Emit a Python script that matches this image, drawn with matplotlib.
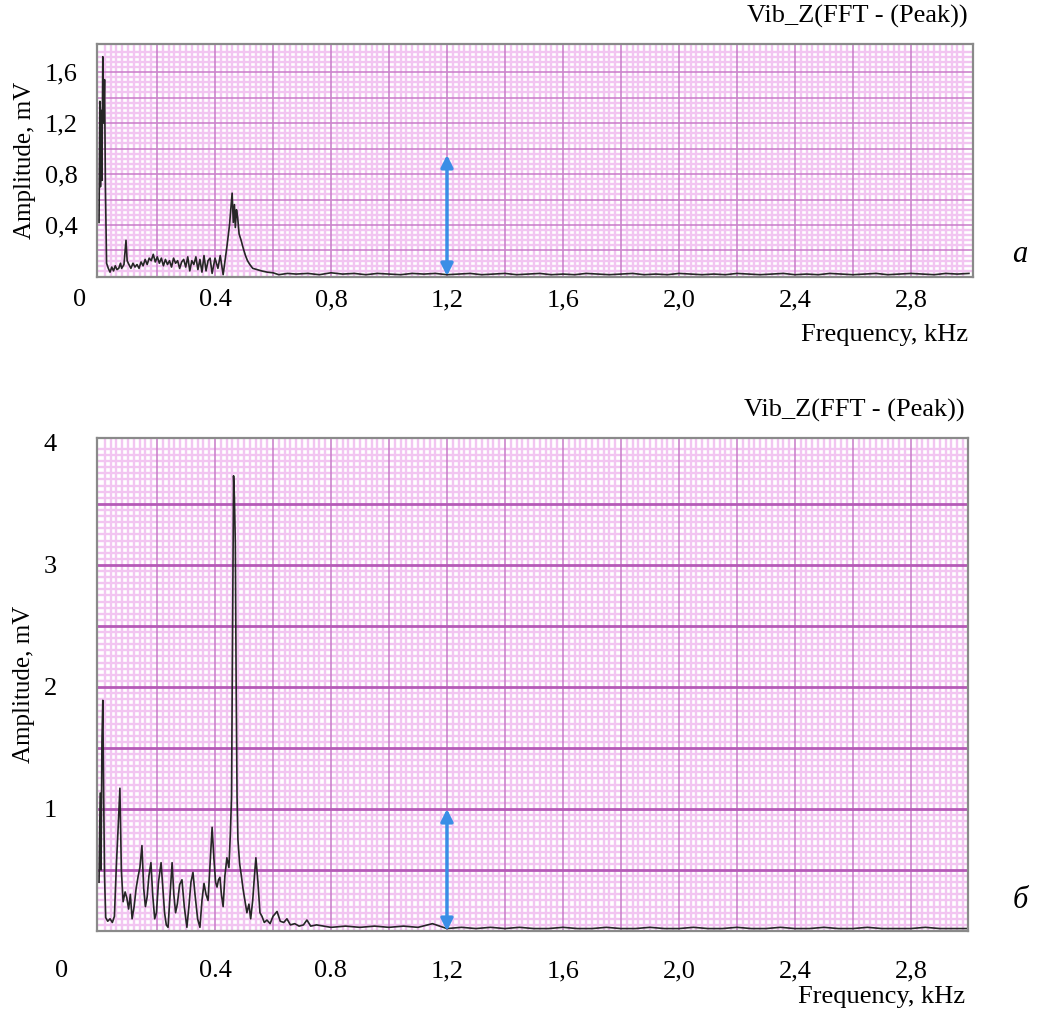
import numpy as np
import matplotlib
matplotlib.use('Agg')
import matplotlib.pyplot as plt
from matplotlib.ticker import MultipleLocator, FuncFormatter
from matplotlib.transforms import ScaledTranslation

plt.rcParams['font.family'] = ['Liberation Serif', 'DejaVu Serif']

# spectrum (a): frequency, kHz / amplitude, mV
freq_a = [0.000, 0.003, 0.005, 0.007, 0.010, 0.013, 0.016, 0.019, 0.022, 0.026,
          0.032, 0.038, 0.044, 0.050, 0.056, 0.062, 0.068, 0.074, 0.078, 0.086,
          0.093, 0.097, 0.103, 0.110, 0.117, 0.124, 0.131, 0.138, 0.145, 0.152,
          0.159, 0.166, 0.173, 0.180, 0.187, 0.194, 0.201, 0.208, 0.215, 0.222,
          0.229, 0.236, 0.243, 0.250, 0.257, 0.264, 0.271, 0.278, 0.285, 0.292,
          0.299, 0.306, 0.313, 0.320, 0.327, 0.334, 0.341, 0.348, 0.355, 0.362,
          0.369, 0.376, 0.383, 0.390, 0.400, 0.410, 0.418, 0.428, 0.441, 0.450,
          0.459, 0.463, 0.467, 0.470, 0.474, 0.478, 0.483, 0.490, 0.497, 0.505,
          0.512, 0.520, 0.530, 0.545, 0.560, 0.580, 0.600, 0.620, 0.650, 0.680,
          0.720, 0.760, 0.800, 0.840, 0.880, 0.920, 0.960, 1.000, 1.040, 1.080,
          1.120, 1.160, 1.200, 1.240, 1.280, 1.320, 1.360, 1.400, 1.440, 1.480,
          1.520, 1.560, 1.600, 1.640, 1.680, 1.720, 1.760, 1.800, 1.840, 1.880,
          1.920, 1.960, 2.000, 2.040, 2.080, 2.120, 2.160, 2.200, 2.240, 2.280,
          2.320, 2.360, 2.400, 2.440, 2.480, 2.520, 2.560, 2.600, 2.640, 2.680,
          2.720, 2.760, 2.800, 2.840, 2.880, 2.920, 2.960, 3.000]
amp_a = [0.42, 1.37, 0.70, 1.30, 0.75, 1.72, 1.20, 1.54, 0.70, 0.10,
         0.06, 0.03, 0.07, 0.04, 0.08, 0.05, 0.06, 0.10, 0.06, 0.09,
         0.28, 0.12, 0.09, 0.06, 0.10, 0.07, 0.09, 0.06, 0.11, 0.08,
         0.13, 0.09, 0.14, 0.12, 0.17, 0.11, 0.15, 0.10, 0.14, 0.08,
         0.13, 0.09, 0.12, 0.07, 0.14, 0.10, 0.12, 0.06, 0.11, 0.13,
         0.07, 0.15, 0.04, 0.12, 0.09, 0.15, 0.05, 0.13, 0.03, 0.16,
         0.04, 0.12, 0.14, 0.02, 0.14, 0.06, 0.16, 0.01, 0.23, 0.40,
         0.65, 0.42, 0.56, 0.38, 0.52, 0.46, 0.33, 0.28, 0.22, 0.16,
         0.12, 0.09, 0.06, 0.05, 0.04, 0.03, 0.025, 0.01, 0.02, 0.015,
         0.02, 0.01, 0.025, 0.015, 0.02, 0.01, 0.02, 0.015, 0.01, 0.02,
         0.015, 0.02, 0.01, 0.015, 0.02, 0.01, 0.015, 0.02, 0.01, 0.015,
         0.02, 0.01, 0.015, 0.01, 0.02, 0.015, 0.01, 0.015, 0.02, 0.01,
         0.015, 0.01, 0.02, 0.015, 0.01, 0.015, 0.01, 0.02, 0.015, 0.01,
         0.015, 0.02, 0.01, 0.015, 0.01, 0.02, 0.015, 0.01, 0.015, 0.02,
         0.01, 0.015, 0.02, 0.015, 0.01, 0.02, 0.015, 0.02]

# spectrum (б)
freq_b = [0.000, 0.004, 0.007, 0.010, 0.013, 0.016, 0.019, 0.023, 0.030, 0.038,
          0.046, 0.053, 0.060, 0.066, 0.072, 0.077, 0.083, 0.090, 0.096, 0.102,
          0.108, 0.114, 0.121, 0.128, 0.135, 0.141, 0.148, 0.154, 0.160, 0.166,
          0.172, 0.179, 0.185, 0.192, 0.198, 0.205, 0.214, 0.220, 0.226, 0.232,
          0.238, 0.245, 0.252, 0.258, 0.264, 0.270, 0.278, 0.286, 0.294, 0.303,
          0.310, 0.317, 0.324, 0.331, 0.340, 0.348, 0.355, 0.362, 0.369, 0.376,
          0.383, 0.390, 0.396, 0.402, 0.407, 0.412, 0.417, 0.422, 0.428, 0.434,
          0.441, 0.448, 0.453, 0.457, 0.461, 0.464, 0.467, 0.470, 0.473, 0.476,
          0.479, 0.485, 0.491, 0.497, 0.503, 0.510, 0.517, 0.523, 0.530, 0.536,
          0.541, 0.548, 0.555, 0.562, 0.570, 0.579, 0.590, 0.600, 0.614, 0.625,
          0.637, 0.648, 0.660, 0.675, 0.690, 0.705, 0.717, 0.730, 0.750, 0.800,
          0.850, 0.900, 0.950, 1.000, 1.050, 1.100, 1.150, 1.200, 1.250, 1.300,
          1.350, 1.400, 1.450, 1.500, 1.550, 1.600, 1.650, 1.700, 1.750, 1.800,
          1.850, 1.900, 1.950, 2.000, 2.050, 2.100, 2.150, 2.200, 2.250, 2.300,
          2.350, 2.400, 2.450, 2.500, 2.550, 2.600, 2.650, 2.700, 2.750, 2.800,
          2.850, 2.900, 2.950, 3.000]
amp_b = [0.40, 1.13, 0.50, 1.55, 1.89, 1.10, 0.45, 0.11, 0.08, 0.10,
         0.07, 0.12, 0.55, 0.85, 1.17, 0.50, 0.24, 0.32, 0.27, 0.18,
         0.30, 0.10, 0.20, 0.35, 0.45, 0.52, 0.70, 0.35, 0.20, 0.28,
         0.45, 0.56, 0.30, 0.10, 0.15, 0.40, 0.56, 0.35, 0.15, 0.05,
         0.03, 0.30, 0.56, 0.30, 0.15, 0.22, 0.38, 0.42, 0.20, 0.03,
         0.20, 0.40, 0.48, 0.30, 0.10, 0.03, 0.25, 0.39, 0.30, 0.25,
         0.55, 0.85, 0.60, 0.40, 0.36, 0.42, 0.44, 0.30, 0.20, 0.45,
         0.60, 0.52, 0.80, 1.10, 2.60, 3.73, 3.55, 3.18, 2.00, 1.10,
         0.75, 0.55, 0.45, 0.34, 0.25, 0.15, 0.22, 0.10, 0.25, 0.45,
         0.60, 0.40, 0.15, 0.12, 0.07, 0.09, 0.06, 0.12, 0.16, 0.08,
         0.07, 0.10, 0.05, 0.06, 0.04, 0.05, 0.09, 0.04, 0.05, 0.03,
         0.04, 0.03, 0.04, 0.03, 0.04, 0.03, 0.06, 0.02, 0.03, 0.02,
         0.03, 0.02, 0.03, 0.02, 0.02, 0.03, 0.02, 0.02, 0.03, 0.02,
         0.02, 0.03, 0.02, 0.02, 0.03, 0.02, 0.02, 0.03, 0.02, 0.02,
         0.03, 0.02, 0.02, 0.03, 0.02, 0.02, 0.03, 0.02, 0.02, 0.02,
         0.03, 0.02, 0.02, 0.02]

xtick_vals = [0, 0.4, 0.8, 1.2, 1.6, 2.0, 2.4, 2.8]
xtick_labels_a = ['0', '0.4', '0,8', '1,2', '1,6', '2,0', '2,4', '2,8']
xtick_labels_b = ['0', '0.4', '0.8', '1,2', '1,6', '2,0', '2,4', '2,8']
ytick_vals_a = [0.4, 0.8, 1.2, 1.6]
ytick_labels_a = ['0,4', '0,8', '1,2', '1,6']
ytick_vals_b = [1, 2, 3, 4]
ytick_labels_b = ['1', '2', '3', '4']
arrow_top_a = 0.95
arrow_top_b = 1.0
arrow_freq = 1.2

fig = plt.figure(figsize=(10.4, 10.11), dpi=100)
ax1 = fig.add_axes([97/1040, 1 - 277/1011, 876/1040, 233/1011])
ax2 = fig.add_axes([97/1040, 1 - 931/1011, 871/1040, 493/1011])

minor_col = '#f2c5f1'
major_col = '#cc84cc'
fs = 19


def picker(vals, labels):
    # label only the listed values, leave the other major grid positions blank
    def f(v, pos):
        for tv, tl in zip(vals, labels):
            if abs(v - tv) < 1e-6:
                return tl
        return ''
    return FuncFormatter(f)


def style(ax, xmax, ymax, ymajor, yminor, hmajor_lw, hmajor_col, xlabels, yvals, ylabels):
    ax.xaxis.set_major_locator(MultipleLocator(0.2))
    ax.xaxis.set_minor_locator(MultipleLocator(0.02))
    ax.yaxis.set_major_locator(MultipleLocator(ymajor))
    ax.yaxis.set_minor_locator(MultipleLocator(yminor))
    ax.xaxis.set_major_formatter(picker(xtick_vals, xlabels))
    ax.yaxis.set_major_formatter(picker(yvals, ylabels))
    # light pink graph paper; minor lines only, the strong lines are drawn on top
    ax.grid(which='minor', color=minor_col, linewidth=1.7)
    ax.set_axisbelow(True)
    # strong lines on the major steps
    ax.vlines(np.arange(0.2, xmax, 0.2), 0, 1, transform=ax.get_xaxis_transform(),
              color=major_col, linewidth=1.2, zorder=0.8)
    ax.hlines(np.arange(ymajor, ymax, ymajor), 0, 1, transform=ax.get_yaxis_transform(),
              color=hmajor_col, linewidth=hmajor_lw, zorder=0.9)
    ax.tick_params(which='both', length=0, labelsize=fs)
    for s in ax.spines.values():
        s.set_color('#8a8a8a')
        s.set_linewidth(1.6)


# panel a
style(ax1, 3.0, 1.8, 0.2, 0.04, 1.2, major_col, xtick_labels_a, ytick_vals_a, ytick_labels_a)
ax1.plot(freq_a, amp_a, color='#262626', linewidth=1.2, zorder=2)
ax1.set_xlim(-0.007, 3.014)
ax1.set_ylim(-0.008, 1.82)
ax1.tick_params(axis='x', pad=9)
ax1.tick_params(axis='y', pad=14)
ax1.annotate('', xy=(arrow_freq, 0), xytext=(arrow_freq, arrow_top_a),
             arrowprops=dict(arrowstyle='<|-|>', color='#3a8ee6', lw=2.5, mutation_scale=18,
                             shrinkA=0, shrinkB=0))
ax1.set_ylabel('Amplitude, mV', fontsize=18, labelpad=6)
fig.text(968/1040, 1 - 16/1011, 'Vib_Z(FFT - (Peak))', ha='right', va='center', fontsize=fs)
fig.text(968/1040, 1 - 335/1011, 'Frequency, kHz', ha='right', va='center', fontsize=fs)
fig.text(1020/1040, 1 - 255/1011, 'a', ha='center', va='center', fontsize=22, style='italic')

# panel b
style(ax2, 3.0, 4.0, 0.5, 0.05, 2.0, '#b55ab7', xtick_labels_b, ytick_vals_b, ytick_labels_b)
ax2.plot(freq_b, amp_b, color='#262626', linewidth=1.2, zorder=2)
ax2.set_xlim(-0.007, 2.997)
ax2.set_ylim(0, 4.04)
ax2.tick_params(axis='x', pad=21)
ax2.tick_params(axis='y', pad=29)
ax2.annotate('', xy=(arrow_freq, 0), xytext=(arrow_freq, arrow_top_b),
             arrowprops=dict(arrowstyle='<|-|>', color='#3a8ee6', lw=2.5, mutation_scale=18,
                             shrinkA=0, shrinkB=0))
ax2.set_ylabel('Amplitude, mV', fontsize=18, labelpad=6)
fig.text(965/1040, 1 - 410/1011, 'Vib_Z(FFT - (Peak))', ha='right', va='center', fontsize=fs)
fig.text(965/1040, 1 - 997/1011, 'Frequency, kHz', ha='right', va='center', fontsize=fs)
fig.text(1020/1040, 1 - 900/1011, 'б', ha='center', va='center', fontsize=22, style='italic')

# shift the "0" frequency labels left of the frame, as in the original
fig.canvas.draw()
for ax, dx in ((ax1, -19), (ax2, -37)):
    for lbl in ax.get_xticklabels():
        if lbl.get_text() == '0':
            lbl.set_transform(lbl.get_transform() + ScaledTranslation(dx / 100, 0, fig.dpi_scale_trans))

fig.savefig('out.png', dpi=100)
